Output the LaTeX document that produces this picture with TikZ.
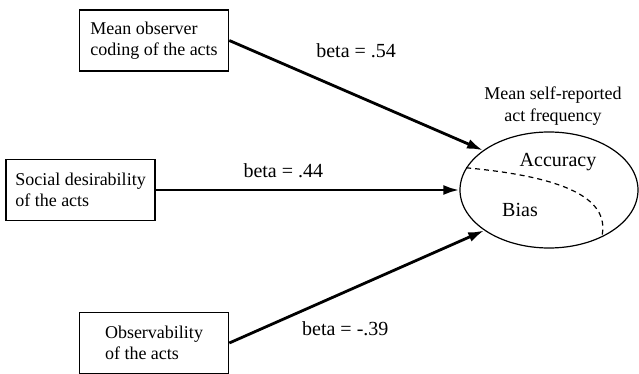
\documentclass[tikz,border=0pt]{standalone}
\usepackage{fontspec}
\setmainfont{Liberation Serif}
\tikzstyle{box}=[draw,line width=0.8pt,align=left,inner sep=3pt,minimum width=74.5pt,minimum height=30.5pt,font=\fontsize{9}{10.5}\selectfont]
\tikzstyle{target}=[draw,ellipse,line width=0.6pt,minimum width=89pt,minimum height=58pt,inner sep=0pt]
\tikzstyle{weight} = [font=\fontsize{10}{12}\selectfont,inner sep=0pt,above=18pt]
\tikzstyle{weight2} = [font=\fontsize{10}{12}\selectfont,inner sep=0pt,above=5.5pt]
\tikzstyle{weight3} = [font=\fontsize{10}{12}\selectfont,inner sep=0pt,below=14pt]
\tikzstyle{part} = [font=\fontsize{10}{12}\selectfont,inner sep=0pt]
\tikzstyle{split} = [draw,line width=0.6pt,dash pattern=on 2.5pt off 2pt]
\tikzstyle{edge} = [draw,line width=1.4pt,-{Latex[length=8pt,width=5pt]}]
\usetikzlibrary{arrows.meta,positioning,shapes.geometric}
\begin{document}
\begin{tikzpicture}[x=0.5pt,y=-0.5pt]
\useasboundingbox (0,0) rectangle (639,374);
\node[box] (1) at (154,40.5) {Mean observer\\coding of the acts};
\node[box] (2) at (80.5,190) {Social desirability\\of the acts};
\node[box] (3) at (154,343) {Observability\\of the acts};

\node[target] (4) at (549,190) {};
\node[font=\fontsize{9}{11}\selectfont,align=center,inner sep=0pt,above=3pt of 4,xshift=2pt] (5) {Mean self-reported\\act frequency};
\node[part] (6) at (558,162) {Accuracy};
\node[part] (7) at (520,210) {Bias};
\path[split] (4.165) .. controls (555,176) and (612,195) .. (4.318);

 \path[edge] (1.east) -- node[weight] {beta = .54} (4.149);
 \path[edge] (2) -- node[weight2,pos=.42] {beta = .44} (4);
 \path[edge] (3.east) -- node[weight3,pos=.455] {beta = -.39} (4.212);
\end{tikzpicture}
\end{document}
